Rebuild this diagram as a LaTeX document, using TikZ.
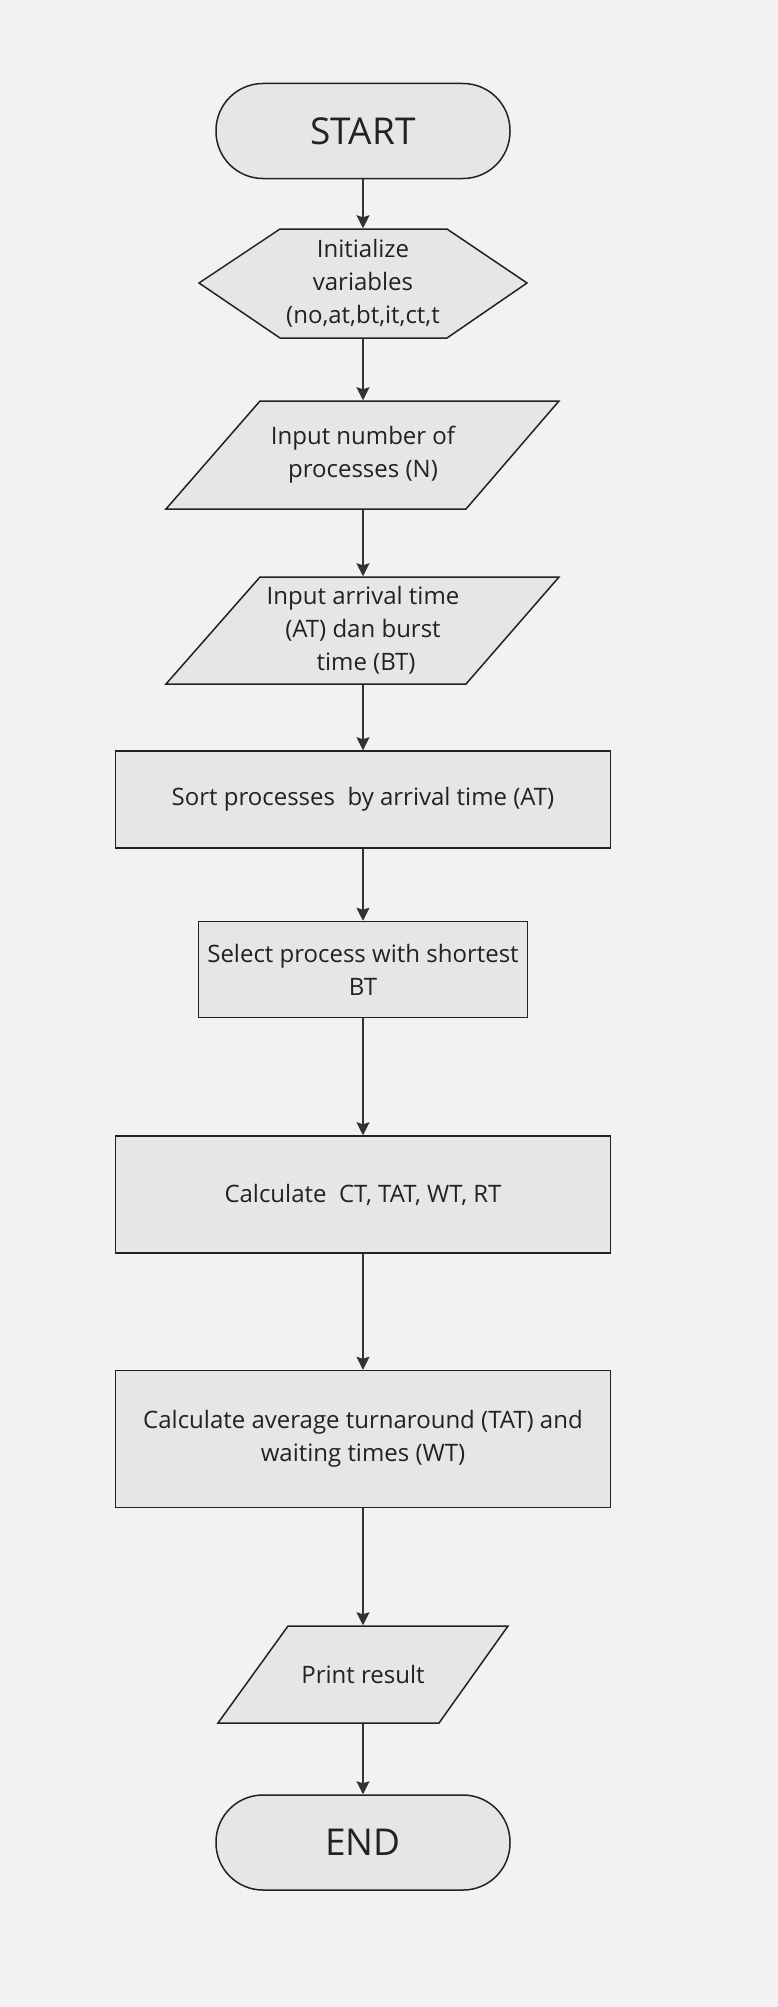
\documentclass[tikz,border=0pt]{standalone}
\usepackage{fontspec}
\setmainfont{Open Sans}
\usetikzlibrary{arrows.meta}
\definecolor{bgcol}{HTML}{F2F2F2}
\definecolor{boxfill}{HTML}{E6E6E6}
\definecolor{boxline}{HTML}{222222}
\definecolor{arrcol}{HTML}{333333}

\begin{document}
\begin{tikzpicture}[x=1pt,y=-1pt,
  outline/.style={draw=boxline, fill=boxfill, line width=1.5pt},
  box/.style={outline, text=boxline, align=center, inner sep=0pt,
    font=\fontsize{24}{33}\selectfont},
  label/.style={box, draw=none, fill=none},
  terminal/.style={box, rounded corners=47pt, minimum width=294pt,
    minimum height=95pt, font=\fontsize{37}{40}\selectfont},
  process/.style={box, minimum width=495pt},
  arr/.style={draw=arrcol, line width=1.5pt,
    -{Stealth[length=13pt,width=13pt,inset=2pt]}}]
\useasboundingbox[fill=bgcol] (0,0) rectangle (778,2007);

% hexagon and parallelograms, text goes on top
\filldraw[outline] (199,283) -- (280,229) -- (447,229) -- (527,283)
  -- (447,338) -- (280,338) -- cycle;
\filldraw[outline] (260,401) -- (559,401) -- (466,509) -- (166,509) -- cycle;
\filldraw[outline] (260,577) -- (559,577) -- (466,684) -- (166,684) -- cycle;
\filldraw[outline] (288,1626) -- (508,1626) -- (439,1723) -- (218,1723) -- cycle;

\node[terminal] (start) at (363,131) {START};
\node[label, minimum width=328pt, minimum height=109pt]
  (init) at (363,283.5) {Initialize\\variables\\(no,at,bt,it,ct,t};
\node[label, minimum width=393pt, minimum height=108pt]
  (numproc) at (363,455) {Input number of\\processes (N)};
\node[label, minimum width=393pt, minimum height=107pt]
  (atbt) at (363,630.5) {Input arrival time\\(AT) dan burst\\\ time (BT)};
\node[process, minimum height=97pt] (sort) at (363,799.5)
  {Sort processes\ \ by arrival time (AT)};
\node[process, minimum width=329pt, minimum height=96pt] (select) at (363,969.5)
  {Select process with shortest\\BT};
\node[process, minimum height=117pt] (calc) at (363,1194.5)
  {Calculate\ \ CT, TAT, WT, RT};
\node[process, minimum height=137pt] (avg) at (363,1439)
  {Calculate average turnaround (TAT) and\\waiting times (WT)};
\node[label, minimum width=290pt, minimum height=97pt]
  (print) at (363,1674.5) {Print result};
\node[terminal] (end) at (363,1842.5) {END};

\foreach \a/\b in {start/init, init/numproc, numproc/atbt, atbt/sort,
    sort/select, select/calc, calc/avg, avg/print, print/end}
  \draw[arr] (\a.south) -- (\b.north);
\end{tikzpicture}
\end{document}
